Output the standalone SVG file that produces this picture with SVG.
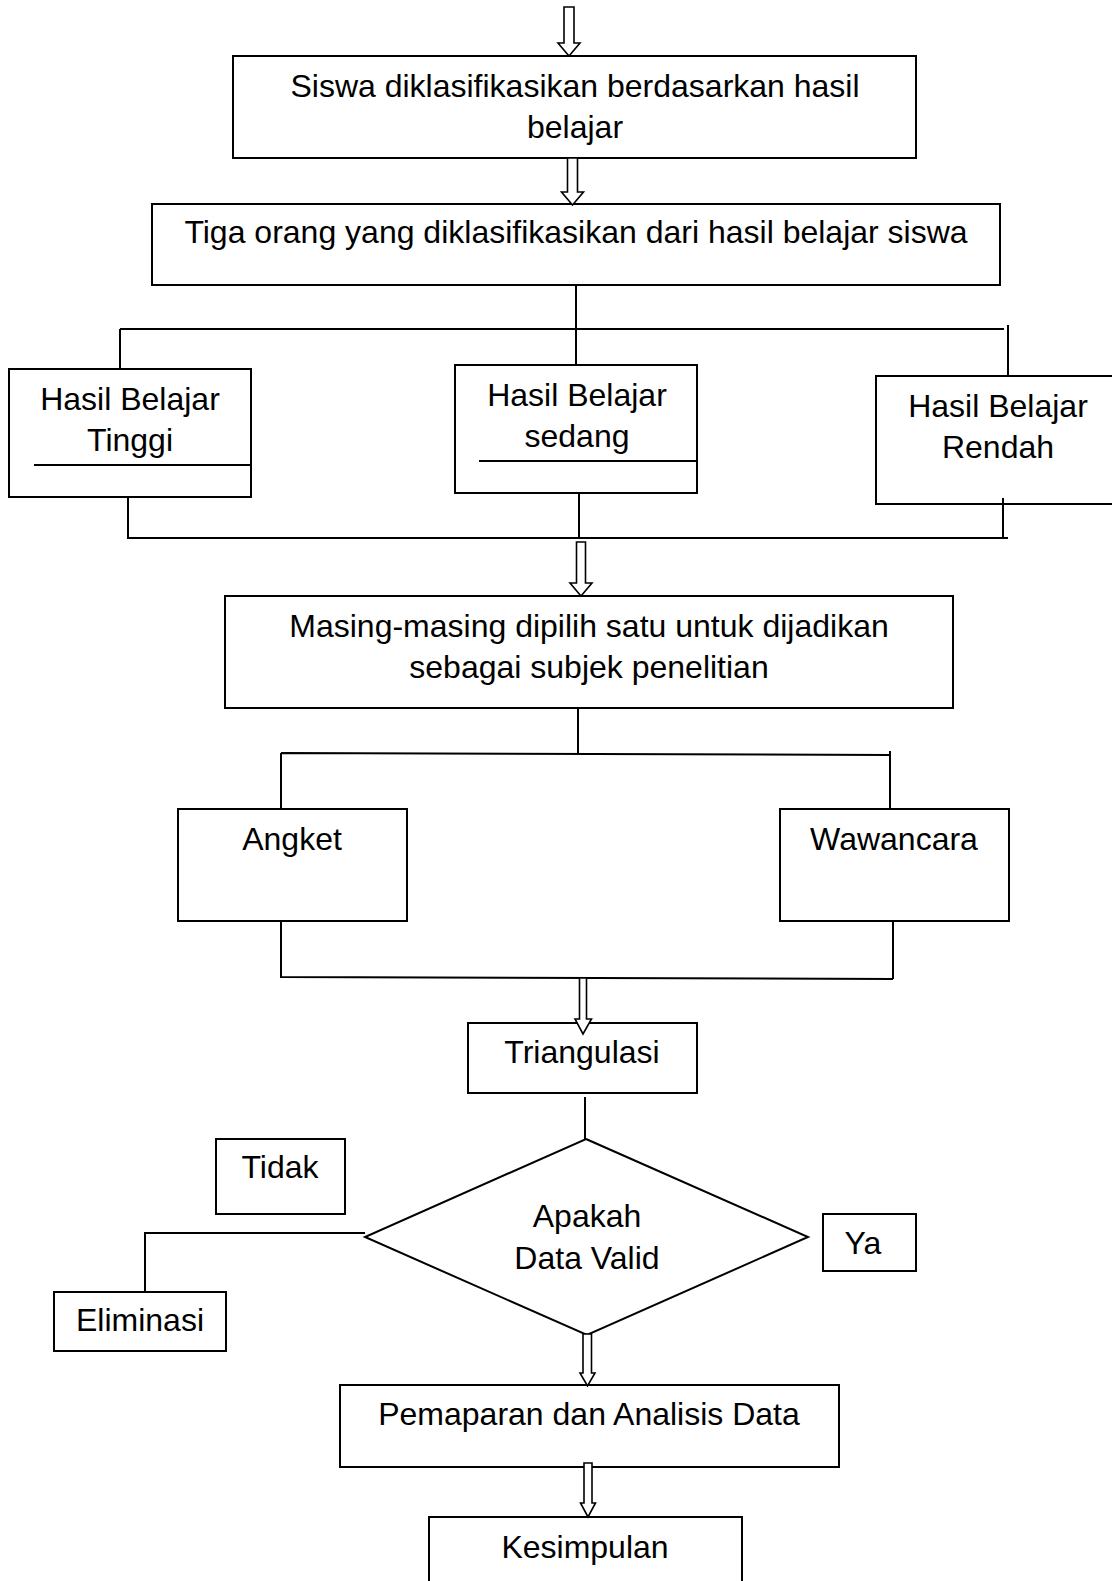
<svg xmlns="http://www.w3.org/2000/svg" width="1112" height="1581" viewBox="0 0 1112 1581">
<style>
.box{fill:#fff;stroke:#000;stroke-width:2}
.t{font-family:"Liberation Sans",Arial,sans-serif;font-size:32px;fill:#000;text-anchor:middle}
.ln{fill:none;stroke:#000;stroke-width:2}
.ar{fill:#fff;stroke:#000;stroke-width:1.6;stroke-linejoin:miter}
</style>
<rect width="1112" height="1581" fill="#fff"/>
<g id="n1"><rect class="box" x="233" y="56" width="683" height="102"/>
<text class="t" x="575" y="97">Siswa diklasifikasikan berdasarkan hasil</text>
<text class="t" x="575" y="138">belajar</text></g>
<g id="n2"><rect class="box" x="152" y="204" width="848" height="81"/>
<text class="t" x="576" y="243">Tiga orang yang diklasifikasikan dari hasil belajar siswa</text></g>
<g id="n3"><rect class="box" x="9" y="369" width="242" height="128"/>
<text class="t" x="130" y="410">Hasil Belajar</text>
<text class="t" x="130" y="451">Tinggi</text>
<line class="ln" x1="34" y1="465" x2="251" y2="465"/></g>
<g id="n4"><rect class="box" x="455" y="365" width="242" height="128"/>
<text class="t" x="577" y="406">Hasil Belajar</text>
<text class="t" x="577" y="447">sedang</text>
<line class="ln" x1="479" y1="461" x2="697" y2="461"/></g>
<g id="n5"><rect class="box" x="876" y="376" width="240" height="128"/>
<text class="t" x="998" y="417">Hasil Belajar</text>
<text class="t" x="998" y="458">Rendah</text></g>
<g id="n6"><rect class="box" x="225" y="596" width="728" height="112"/>
<text class="t" x="589" y="637">Masing-masing dipilih satu untuk dijadikan</text>
<text class="t" x="589" y="678">sebagai subjek penelitian</text></g>
<g id="n7"><rect class="box" x="178" y="809" width="229" height="112"/>
<text class="t" x="292" y="850">Angket</text></g>
<g id="n8"><rect class="box" x="780" y="809" width="229" height="112"/>
<text class="t" x="894" y="850">Wawancara</text></g>
<g id="n9"><rect class="box" x="468" y="1023" width="229" height="70"/>
<text class="t" x="582" y="1063">Triangulasi</text></g>
<g id="n10"><polygon class="box" points="586,1139 808,1237 587,1335 365,1237"/>
<text class="t" x="587" y="1227">Apakah</text>
<text class="t" x="587" y="1269">Data Valid</text></g>
<g id="n11"><rect class="box" x="216" y="1139" width="129" height="75"/>
<text class="t" x="280" y="1178">Tidak</text></g>
<g id="n12"><rect class="box" x="823" y="1214" width="93" height="57"/>
<text class="t" x="863" y="1254">Ya</text></g>
<g id="n13"><rect class="box" x="54" y="1292" width="172" height="59"/>
<text class="t" x="140" y="1331">Eliminasi</text></g>
<g id="n14"><rect class="box" x="340" y="1385" width="499" height="82"/>
<text class="t" x="589" y="1425">Pemaparan dan Analisis Data</text></g>
<g id="n15"><rect class="box" x="429" y="1517" width="313" height="80"/>
<text class="t" x="585" y="1558">Kesimpulan</text></g>
<g id="connectors">
<path class="ln" d="M576,285 V365 M120,329 H1004 M120,329 V369 M1008,325 V376"/>
<path class="ln" d="M128,497 V538 H1008 M579,493 V538 M1003,498 V538"/>
<path class="ln" d="M578,708 V753 M281,753 L890,755 M281,753 V809 M890,751 V809"/>
<path class="ln" d="M281,921 V977 L893,979 M893,922 V979"/>
<path class="ln" d="M585,1097 V1139"/>
<path class="ln" d="M365,1233 H145 V1292"/>
<path class="ar" d="M564,7 H574 V43 H580 L569,56 L558,43 H564 Z"/>
<path class="ar" d="M567.5,158 H577.5 V192 H583.5 L572.5,205 L561.5,192 H567.5 Z"/>
<path class="ar" d="M576.5,542 H585.5 V583 H592 L581,596 L570,583 H576.5 Z"/>
<path class="ar" d="M579.5,978 H586.5 V1019 H591.5 L583,1034 L575,1019 H579.5 Z"/>
<path class="ar" d="M583,1334 H591.5 V1373 H595 L587.5,1386 L580,1373 H583 Z"/>
<path class="ar" d="M584,1463 H592 V1503 H595.5 L588,1517 L580.5,1503 H584 Z"/>
</g>
</svg>
